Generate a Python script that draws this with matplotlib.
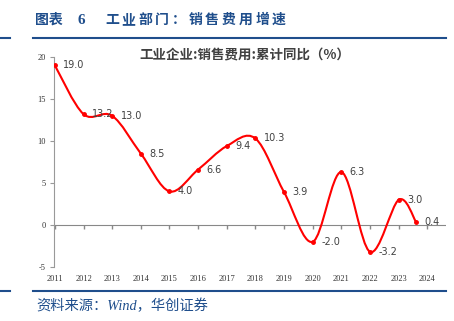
import matplotlib.pyplot as plt
from matplotlib.path import Path
import matplotlib.patches as patches
import numpy as np

# 工业企业: 销售费用: 累计同比 (%)
x_pos = [2011, 2012, 2013, 2014, 2015, 2016, 2017, 2018, 2019, 2020, 2021, 2022, 2023, 2023.6]
values = [19.0, 13.2, 13.0, 8.5, 4.0, 6.6, 9.4, 10.3, 3.9, -2.0, 6.3, -3.2, 3.0, 0.4]
year_ticks = list(range(2011, 2025))
y_ticks = [-5, 0, 5, 10, 15, 20]

blue = '#1f4e8c'
cjk = ['Noto Sans CJK SC', 'DejaVu Sans']

fig = plt.figure(figsize=(4.54, 3.21), dpi=100)
ax = fig.add_axes([54 / 454, 1 - 267 / 321, 392 / 454, 210 / 321])


def smooth_path(xs, ys):
	# Catmull-Rom style bezier, like the smoothed line in Excel
	pts = np.column_stack([xs, ys]).astype(float)
	verts = [pts[0]]
	codes = [Path.MOVETO]
	n = len(pts)
	for i in range(n - 1):
		p0 = pts[i - 1] if i > 0 else pts[i]
		p1 = pts[i]
		p2 = pts[i + 1]
		p3 = pts[i + 2] if i + 2 < n else pts[i + 1]
		c1 = p1 + (p2 - p0) / 6.0
		c2 = p2 - (p3 - p1) / 6.0
		verts += [c1, c2, p2]
		codes += [Path.CURVE4] * 3
	return Path(verts, codes)


ax.add_patch(patches.PathPatch(smooth_path(x_pos, values), fill=False,
	edgecolor='#ff0000', linewidth=1.5, zorder=3))
ax.plot(x_pos, values, 'o', color='#ff0000', markersize=2.5, zorder=4)

for xv, yv in zip(x_pos, values):
	ax.annotate('%.1f' % yv, (xv, yv), xytext=(6, 0), textcoords='offset points',
		ha='left', va='center', fontsize=7, color='#404040', family='DejaVu Sans')

ax.set_xlim(2010.97, 2024.65)
ax.set_ylim(-5, 20)

for s in ['top', 'right', 'bottom']:
	ax.spines[s].set_visible(False)
ax.spines['left'].set_color('#999999')
ax.spines['left'].set_linewidth(0.8)

ax.axhline(0, color='#888888', linewidth=0.8, zorder=1)
ax.plot(year_ticks, [0] * len(year_ticks), linestyle='none', marker=3,
	markersize=3, color='#888888', zorder=1)

ax.set_yticks(y_ticks)
ax.set_yticklabels([str(v) for v in y_ticks], family='Liberation Serif', fontsize=6, color='#333333')
ax.tick_params(axis='y', length=3, width=0.8, color='#999999', pad=3)
ax.set_xticks(year_ticks)
ax.set_xticklabels([str(v) for v in year_ticks], family='Liberation Serif', fontsize=6, color='#333333')
ax.tick_params(axis='x', length=0, pad=6)

fig.text(245 / 454, 1 - 55 / 321, '工业企业:销售费用:累计同比（%）', ha='center', va='center',
	fontsize=9.7, color='#404040', family=cjk, fontweight='semibold')

# header
title_y = 1 - 20 / 321
fig.text(35 / 454, title_y, '图表', ha='left', va='center',
	fontsize=10, color=blue, family=cjk, fontweight='bold')
fig.text(77 / 454, title_y, '6', ha='left', va='center',
	fontsize=11, color=blue, family='Liberation Serif', fontweight='bold')
for i, ch in enumerate('工业部门：销售费用增速'):
	fig.text((105 + i * 16.7) / 454, title_y, ch, ha='left', va='center',
		fontsize=10, color=blue, family=cjk, fontweight='bold')

fig.add_artist(plt.Line2D([33 / 454, 446 / 454], [1 - 38 / 321] * 2, color=blue, linewidth=1.5))
fig.add_artist(plt.Line2D([0, 10 / 454], [1 - 38 / 321] * 2, color=blue, linewidth=1.5))
fig.add_artist(plt.Line2D([33 / 454, 446 / 454], [1 - 291 / 321] * 2, color=blue, linewidth=1.5))
fig.add_artist(plt.Line2D([0, 10 / 454], [1 - 291 / 321] * 2, color=blue, linewidth=1.5))

# footer
fig.text(36 / 454, 1 - 306 / 321, '资料来源：Wind，华创证券', ha='left', va='center',
	fontsize=10.3, color=blue, family=['Liberation Serif', 'Noto Sans CJK SC'], style='italic')

fig.savefig('out.png', dpi=100)
